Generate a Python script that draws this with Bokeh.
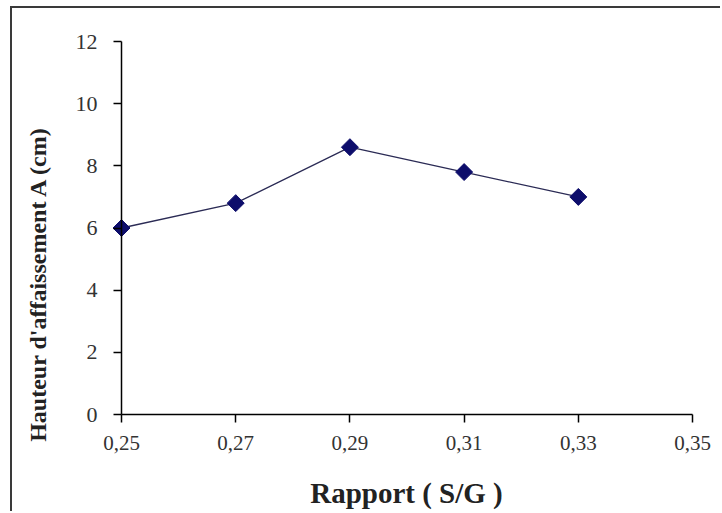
from bokeh.plotting import figure
from bokeh.models import Range1d, FixedTicker, Label
from bokeh.embed import file_html
from bokeh.resources import INLINE
import math

# Slump height versus sand/gravel ratio
ratio = [0.25, 0.27, 0.29, 0.31, 0.33]
height_cm = [6.0, 6.8, 8.6, 7.8, 7.0]

x_ticks = [0.25, 0.27, 0.29, 0.31, 0.33, 0.35]
x_tick_labels = ["0,25", "0,27", "0,29", "0,31", "0,33", "0,35"]
y_ticks = [0, 2, 4, 6, 8, 10, 12]

x_label = "Rapport ( S/G )"
y_label = "Hauteur d'affaissement  A (cm)"

SERIF = "Liberation Serif"

# The frame spans the whole canvas; axes are pinned at x=0.25 and y=0 so that
# tick labels and titles all sit inside it.
p = figure(
    width=710, height=505,
    x_range=Range1d(0.23091, 0.35525), y_range=Range1d(-3.185, 13.062),
    output_backend="svg", toolbar_location=None,
    min_border_left=0, min_border_right=0,
    min_border_top=0, min_border_bottom=0,
)
p.styles = {
    "margin-left": "10px", "margin-top": "6px",
    "border-left": "2px solid #3a3a3a", "border-top": "2px solid #3a3a3a",
}
p.outline_line_color = None
p.grid.visible = False
p.background_fill_color = "white"
p.border_fill_color = "white"

for ax in (p.xaxis[0], p.yaxis[0]):
    ax.axis_line_color = "black"
    ax.axis_line_width = 1.5
    ax.major_tick_line_color = "black"
    ax.major_tick_line_width = 1.5
    ax.major_tick_in = 0
    ax.major_tick_out = 8
    ax.minor_tick_line_color = None
    ax.major_label_text_font = SERIF
    ax.major_label_text_color = "#333333"

p.xaxis.ticker = FixedTicker(ticks=x_ticks)
p.xaxis.major_label_overrides = dict(zip(x_ticks, x_tick_labels))
p.xaxis.bounds = (x_ticks[0], x_ticks[-1])
p.xaxis.fixed_location = y_ticks[0]
p.xaxis.major_label_standoff = 13
p.xaxis.major_label_text_font_size = "21px"

p.yaxis.ticker = FixedTicker(ticks=y_ticks)
p.yaxis.bounds = (y_ticks[0], y_ticks[-1])
p.yaxis.fixed_location = x_ticks[0]
p.yaxis.major_label_standoff = 16
p.yaxis.major_label_text_font_size = "22px"

# axis titles
p.add_layout(Label(
    x=0.29991, y=-2.51, text=x_label,
    text_align="center", text_baseline="middle",
    text_font=SERIF, text_font_style="bold", text_font_size="29px",
    text_color="#222222",
))
p.add_layout(Label(
    x=0.23529, y=4.31, text=y_label, angle=math.pi / 2,
    text_align="center", text_baseline="middle",
    text_font=SERIF, text_font_style="bold", text_font_size="24px",
    text_color="#222222",
))

# series
p.line(ratio, height_cm, line_color="#2b2b55", line_width=1.3)
p.scatter(ratio, height_cm, marker="square", angle=math.pi / 4, size=12,
          fill_color="#0d0d6b", line_color="#0d0d6b")

open("out.html", "w").write(file_html(p, INLINE))
